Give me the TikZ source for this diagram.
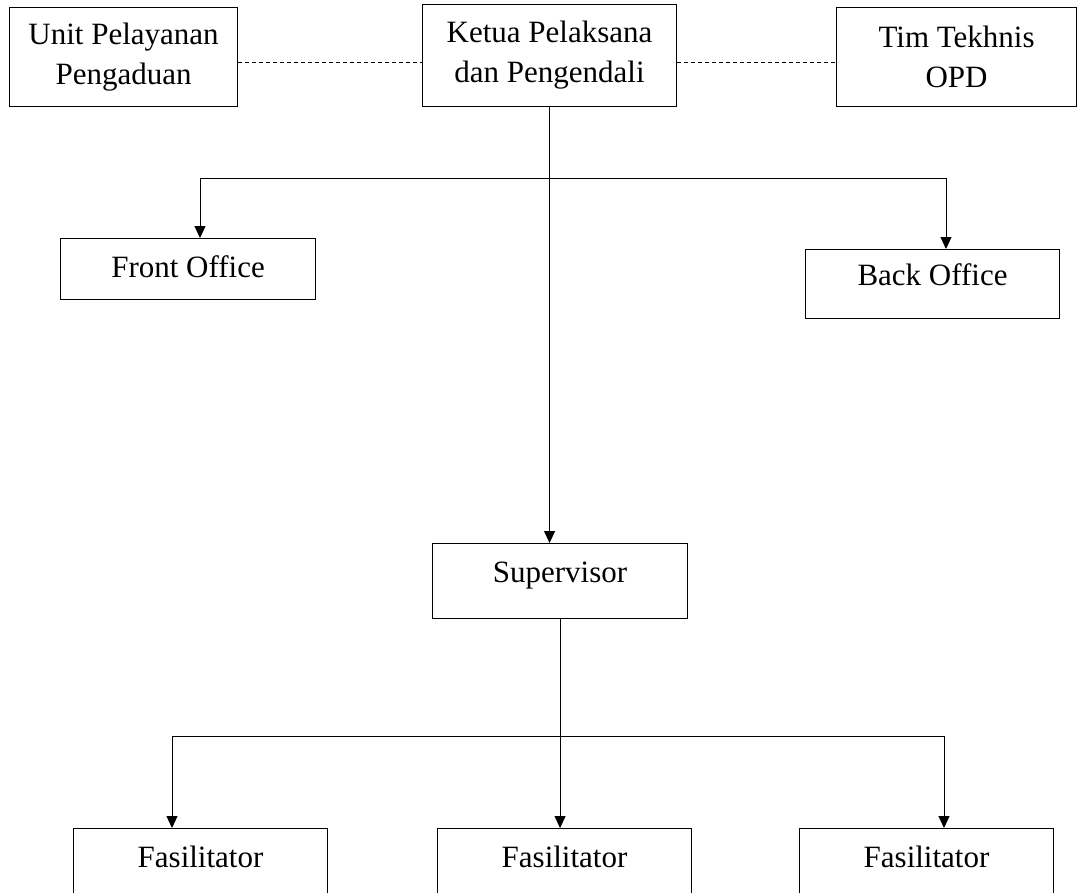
\documentclass[tikz,border=0pt]{standalone}
\usepackage{fontspec}
\setmainfont{Liberation Serif}
\usetikzlibrary{arrows.meta,positioning}

\begin{document}
\begin{tikzpicture}[
    x=1pt, y=-1pt,
    font=\fontsize{31}{40}\selectfont,
    >={Triangle[length=12pt,width=11pt]},
    box/.style={draw, line width=1.1pt, align=center, anchor=north west, inner sep=0pt, minimum width=#1},
    box/.default=254pt,
    link/.style={line width=1pt},
    dashlink/.style={line width=0.9pt, dash pattern=on 4pt off 3pt}
  ]
    \useasboundingbox (0,0) rectangle (1082,892);
    \clip (0,0) rectangle (1082,892);

    % top row
    \node[box=228pt, minimum height=99pt] (unit) at (9,7) {Unit Pelayanan\\Pengaduan};
    \node[box=254pt, minimum height=102pt] (ketua) at (422,4) {Ketua Pelaksana\\dan Pengendali};
    \node[box=240pt, minimum height=99pt] (tim) at (836,7) {Tim Tekhnis\\OPD};

    \draw[dashlink] ([yshift=-5pt]unit.east) -- ([yshift=-5pt]unit.east -| ketua.west);
    \draw[dashlink] ([yshift=-5pt]unit.east -| ketua.east) -- ([yshift=-5pt]unit.east -| tim.west);

    % offices
    \node[box=255pt, text height=39pt, text depth=22pt] (front) at (60,238) {Front Office};
    \node[box=254pt, text height=36pt, text depth=33pt] (back) at (805,249) {Back Office};

    \coordinate (fobend) at (200,178);
    \coordinate (bobend) at (946,178);
    \draw[link,<->] (fobend |- front.north) -- (fobend) -- (bobend) -- (bobend |- back.north);

    % supervisor and fasilitator
    \node[box=255pt, text height=39pt, text depth=36pt] (sup) at (432,543) {Supervisor};
    \draw[link,->] (ketua.south) -- (ketua.south |- sup.north);

    \foreach \x/\n in {73/1,437/2,799/3}
      \node[box, text height=39pt, text depth=50pt] (fas\n) at (\x,828) {Fasilitator};

    \coordinate (lbend) at (172,736);
    \coordinate (rbend) at (944,736);
    \draw[link,->] (sup.south) -- (sup.south |- fas2.north);
    \draw[link,<->] (lbend |- fas1.north) -- (lbend) -- (rbend) -- (rbend |- fas3.north);
  \end{tikzpicture}
\end{document}
